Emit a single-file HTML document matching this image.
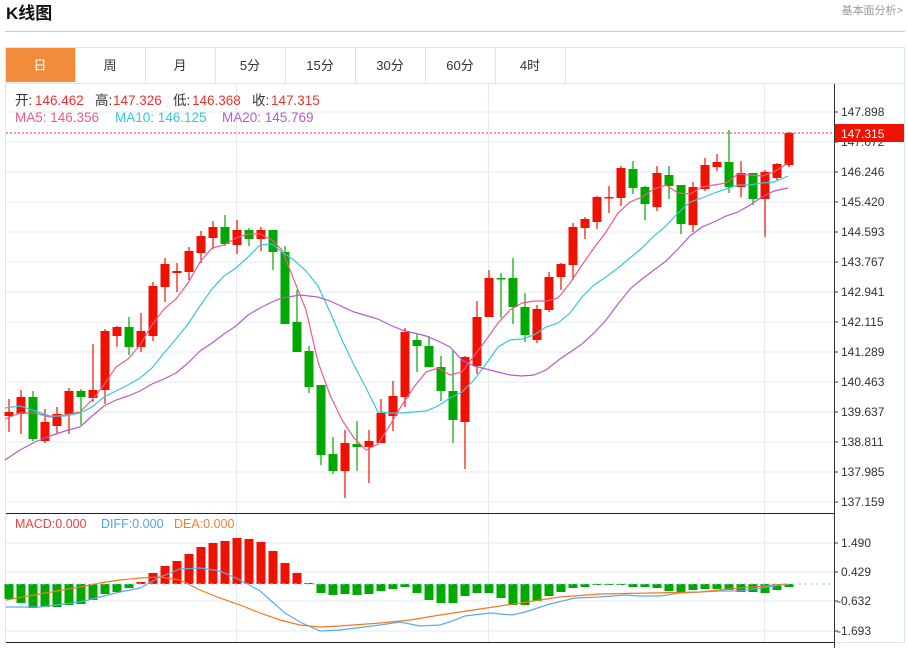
<!DOCTYPE html>
<html><head><meta charset="utf-8"><style>
body{margin:0;background:#fff;width:908px;height:648px;overflow:hidden;font-family:"Liberation Sans","Noto Sans CJK SC",sans-serif}
</style></head><body>
<svg width="908" height="648" xmlns="http://www.w3.org/2000/svg" font-family="Liberation Sans, Noto Sans CJK SC, sans-serif">
<text x="6" y="19" font-size="17" font-weight="bold" fill="#111">K线图</text>
<text x="903" y="14" font-size="11" fill="#999" text-anchor="end">基本面分析&gt;</text>
<line x1="5" y1="31.5" x2="905" y2="31.5" stroke="#ccc"/>
<rect x="5.5" y="47.5" width="899" height="595" fill="none" stroke="#dde3ea"/>
<line x1="5" y1="83.5" x2="905" y2="83.5" stroke="#dde3ea"/>
<rect x="6" y="48" width="69" height="34" fill="#f28b3c"/>
<g font-size="13" text-anchor="middle" fill="#333">
<text x="40" y="70" fill="#fff">日</text>
<line x1="75.5" y1="48" x2="75.5" y2="83" stroke="#dde3ea"/><text x="110" y="70">周</text>
<line x1="145.5" y1="48" x2="145.5" y2="83" stroke="#dde3ea"/><text x="180" y="70">月</text>
<line x1="215.5" y1="48" x2="215.5" y2="83" stroke="#dde3ea"/><text x="250" y="70">5分</text>
<line x1="285.5" y1="48" x2="285.5" y2="83" stroke="#dde3ea"/><text x="320" y="70">15分</text>
<line x1="355.5" y1="48" x2="355.5" y2="83" stroke="#dde3ea"/><text x="390" y="70">30分</text>
<line x1="425.5" y1="48" x2="425.5" y2="83" stroke="#dde3ea"/><text x="460" y="70">60分</text>
<line x1="495.5" y1="48" x2="495.5" y2="83" stroke="#dde3ea"/><text x="530" y="70">4时</text>
<line x1="565.5" y1="48" x2="565.5" y2="83" stroke="#dde3ea"/>
</g>
<g stroke="#e3ebf2">
<line x1="6" y1="112" x2="834" y2="112"/><line x1="6" y1="142" x2="834" y2="142"/><line x1="6" y1="172" x2="834" y2="172"/><line x1="6" y1="202" x2="834" y2="202"/><line x1="6" y1="232" x2="834" y2="232"/><line x1="6" y1="262" x2="834" y2="262"/><line x1="6" y1="292" x2="834" y2="292"/><line x1="6" y1="322" x2="834" y2="322"/><line x1="6" y1="352" x2="834" y2="352"/><line x1="6" y1="382" x2="834" y2="382"/><line x1="6" y1="412" x2="834" y2="412"/><line x1="6" y1="442" x2="834" y2="442"/><line x1="6" y1="472" x2="834" y2="472"/><line x1="6" y1="502" x2="834" y2="502"/>
<line x1="6" y1="543" x2="834" y2="543"/><line x1="6" y1="572" x2="834" y2="572"/><line x1="6" y1="601" x2="834" y2="601"/><line x1="6" y1="631" x2="834" y2="631"/>
<line x1="236.5" y1="84" x2="236.5" y2="642"/><line x1="488.5" y1="84" x2="488.5" y2="642"/><line x1="764.5" y1="84" x2="764.5" y2="642"/>
</g>
<line x1="834.5" y1="84" x2="834.5" y2="648" stroke="#333"/>
<line x1="6" y1="513.5" x2="834" y2="513.5" stroke="#222"/>
<line x1="6" y1="642.5" x2="834" y2="642.5" stroke="#222"/>
<g font-size="12" fill="#333">
<text x="841" y="116">147.898</text><text x="841" y="146">147.072</text><text x="841" y="176">146.246</text><text x="841" y="206">145.420</text><text x="841" y="236">144.593</text><text x="841" y="266">143.767</text><text x="841" y="296">142.941</text><text x="841" y="326">142.115</text><text x="841" y="356">141.289</text><text x="841" y="386">140.463</text><text x="841" y="416">139.637</text><text x="841" y="446">138.811</text><text x="841" y="476">137.985</text><text x="841" y="506">137.159</text>
<text x="841" y="547">1.490</text><text x="841" y="576">0.429</text><text x="837" y="605">-0.632</text><text x="837" y="635">-1.693</text>
</g>
<g stroke="#333"><line x1="834" y1="112" x2="838" y2="112"/><line x1="834" y1="142" x2="838" y2="142"/><line x1="834" y1="172" x2="838" y2="172"/><line x1="834" y1="202" x2="838" y2="202"/><line x1="834" y1="232" x2="838" y2="232"/><line x1="834" y1="262" x2="838" y2="262"/><line x1="834" y1="292" x2="838" y2="292"/><line x1="834" y1="322" x2="838" y2="322"/><line x1="834" y1="352" x2="838" y2="352"/><line x1="834" y1="382" x2="838" y2="382"/><line x1="834" y1="412" x2="838" y2="412"/><line x1="834" y1="442" x2="838" y2="442"/><line x1="834" y1="472" x2="838" y2="472"/><line x1="834" y1="502" x2="838" y2="502"/><line x1="834" y1="543" x2="838" y2="543"/><line x1="834" y1="572" x2="838" y2="572"/><line x1="834" y1="601" x2="838" y2="601"/><line x1="834" y1="631" x2="838" y2="631"/></g>
<g id="c"></g>
<line x1="6" y1="133" x2="834" y2="133" stroke="#f03030" stroke-dasharray="2,2"/>
<line x1="6" y1="584" x2="834" y2="584" stroke="#9fd3ea" stroke-dasharray="3,3"/>
<rect x="835" y="124" width="69" height="18" fill="#f01200"/>
<text x="841" y="138" font-size="12" fill="#fff">147.315</text>
<g font-size="13.5" fill="#333">
<text x="15" y="105">开:</text><text x="35" y="105" fill="#f0302a">146.462</text>
<text x="95" y="105">高:</text><text x="113" y="105" fill="#f0302a">147.326</text>
<text x="173" y="105">低:</text><text x="192" y="105" fill="#f0302a">146.368</text>
<text x="252" y="105">收:</text><text x="271" y="105" fill="#f0302a">147.315</text>
<text x="15" y="122" fill="#ee5a8a">MA5: 146.356</text>
<text x="115" y="122" fill="#3ac6dc">MA10: 146.125</text>
<text x="222" y="122" fill="#b45ccc">MA20: 145.769</text>
</g>
<g font-size="12.5">
<text x="15" y="528" fill="#ee4040">MACD:0.000</text>
<text x="101" y="528" fill="#4ba6ee">DIFF:0.000</text>
<text x="174" y="528" fill="#f08030">DEA:0.000</text>
</g>
</svg>
<script>
var C=[[412,416,399,432,1],[397,414,390,434,1],[397,439,391,441,0],[422,441,409,443,1],[414,426,407,433,1],[391,414,388,434,1],[391,397,389,425,0],[390,398,344,402,1],[331,390,329,404,1],[327,336,326,347,1],[327,347,317,355,0],[331,347,313,352,1],[286,336,282,341,1],[264,287,258,302,1],[271,273,263,292,1],[251,272,247,280,1],[236,253,231,263,1],[227,238,221,249,1],[227,244,215,246,0],[230,245,220,254,1],[230,239,228,246,0],[230,239,227,251,1],[230,252,230,270,0],[252,324,246,324,0],[322,352,290,352,0],[351,387,346,393,0],[385,455,385,465,0],[454,471,437,474,0],[443,471,430,498,1],[444,447,421,471,0],[441,447,430,483,1],[413,443,399,443,1],[396,416,381,431,1],[332,397,328,407,1],[340,346,333,372,0],[346,367,336,367,0],[367,391,356,401,0],[391,420,351,443,0],[357,422,356,469,1],[317,366,301,374,1],[278,317,270,317,1],[278,279,273,318,0],[278,307,258,324,0],[307,335,293,342,0],[309,340,305,343,1],[277,310,272,312,1],[264,277,263,290,1],[227,265,223,280,1],[219,228,217,239,1],[197,222,196,229,1],[197,198,186,213,1],[168,198,166,206,1],[169,188,161,194,0],[187,204,186,220,0],[173,207,166,211,1],[175,186,166,199,0],[185,224,185,234,0],[187,225,182,232,1],[165,189,158,191,1],[162,167,154,171,1],[162,187,130,193,0],[173,187,161,197,1],[173,199,173,205,0],[172,199,170,237,1],[164,178,163,180,1],[133,165,132,167,1]];
var M=[599,603,608,607,607,605,604,600,594,592,588,582,573,566,561,554,547,543,541,538,539,542,551,563,573,583,593,595,594,595,594,591,589,587,593,600,603,603,596,593,593,598,605,605,601,596,592,588,587,585,584,584,587,587,588,591,592,590,589,589,590,592,592,593,590,587];
var s='',R='#f01200',G='#00a800';
C.forEach(function(c,i){var x=9+12*i,col=c[4]?R:G;
s+='<line x1="'+x+'" y1="'+c[2]+'" x2="'+x+'" y2="'+c[3]+'" stroke="'+col+'" stroke-width="1.2"/>';
s+='<rect x="'+(x-4.5)+'" y="'+c[0]+'" width="9" height="'+Math.max(1.5,c[1]-c[0])+'" fill="'+col+'"/>';});
M.forEach(function(v,i){var x=9+12*i,col=v<584?R:G;var y=Math.min(v,584),h=Math.max(1,Math.abs(v-584));
s+='<rect x="'+(x-4.5)+'" y="'+y+'" width="9" height="'+h+'" fill="'+col+'"/>';});
function pl(p,c){return '<polyline fill="none" stroke="'+c+'" stroke-width="1.2" points="'+p+'"/>';}
s+=pl("5,419 20,413 35,413 50,417 65,415 80,412 92,400 104,385 116,367 128,359 140,345 152,325 164,309 176,299 188,283 200,262 212,248 224,245 236,238 248,234 260,234 272,240 282,250 294,280 306,310 318,362 330,395 342,420 354,438 366,450 378,444 390,425 402,405 414,387 426,372 438,368 450,375 462,372 474,356 486,340 498,323 510,310 522,303 534,301 546,301 558,298 570,283 582,265 594,248 606,232 618,213 630,202 642,197 654,189 666,185 678,193 690,194 702,187 714,185 726,183 738,174 750,175 762,176 774,172 788,163","#ee5a8a");
s+=pl("5,408 20,406 35,411 50,416 65,416 80,413 92,407 104,397 116,391 128,385 140,378 152,368 164,353 176,339 188,324 200,306 212,289 224,276 236,268 248,257 260,245 272,244 282,252 294,260 306,271 318,286 330,312 342,340 354,365 366,388 378,412 390,413 402,413 414,412 426,411 438,406 450,398 462,392 474,380 486,364 498,347 510,340 522,339 534,335 546,327 558,323 570,313 582,297 594,285 606,277 618,268 630,258 642,248 654,236 666,226 678,213 690,202 702,198 714,193 726,189 738,185 750,185 762,183 774,182 788,176","#3ac6dc");
s+=pl("5,460 20,450 35,442 50,436 65,431 80,427 92,416 104,406 116,400 128,396 140,391 152,384 164,379 176,373 188,363 200,351 212,343 224,334 236,326 248,315 260,308 272,302 282,298 300,295 318,297 330,301 354,312 378,319 390,325 402,330 426,336 438,341 450,347 462,360 474,366 486,369 498,372 510,375 522,376 534,375 546,370 560,359 582,344 594,333 606,320 618,304 630,289 642,279 654,270 666,261 678,249 690,236 702,227 714,222 726,216 738,212 750,205 762,197 774,191 788,188","#b45ccc");
s+=pl("6,607 40,607 80,602 120,592 140,588 160,577 180,569 200,568 220,571 240,580 260,591 285,613 300,622 320,631 340,630 380,625 400,622 420,626 440,625 452,621 465,616 490,613 512,615 525,612 550,604 575,598 600,597 625,595 640,596 660,596 680,593 700,592 720,591 740,591 760,588 788,584","#5aaaf0");
s+=pl("6,600 40,594 80,587 100,583 120,580 140,578 160,577 180,580 200,590 220,598 240,605 260,613 280,620 300,625 320,627 340,626 380,623 410,620 440,615 480,609 520,603 560,597 600,594 650,593 700,592 740,588 788,584","#f5781e");
document.getElementById('c').innerHTML=s;
</script>
</body></html>
